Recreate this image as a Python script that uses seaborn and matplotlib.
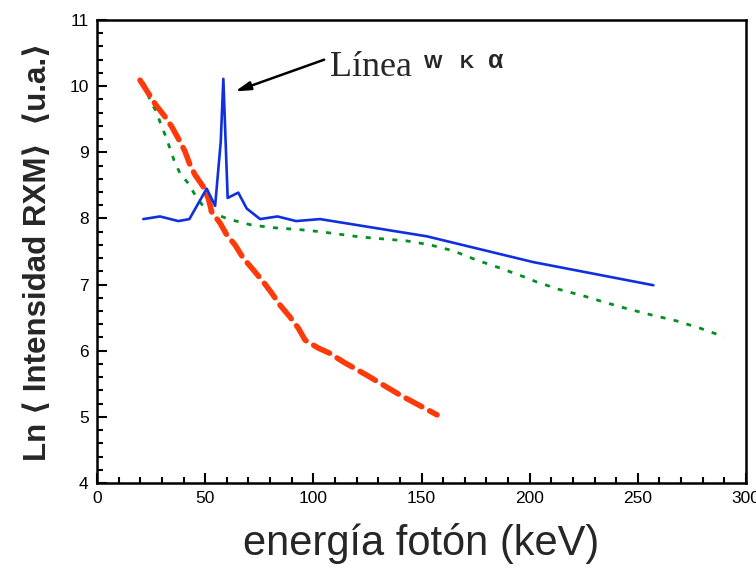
import matplotlib
matplotlib.use("Agg")
import matplotlib.pyplot as plt
from matplotlib.ticker import MultipleLocator
import seaborn as sns
import pandas as pd

# Espectro con línea característica del wolframio (trazo continuo azul)
energia_w = [21.4, 29.1, 37.6, 42.7, 50.7, 54.6, 57.2, 58.4, 60.4, 65.3, 69.2,
             75.4, 83.4, 92.0, 103.1, 152.4, 201.6, 257.2]
ln_w = [7.99, 8.03, 7.96, 7.99, 8.45, 8.19, 9.16, 10.11, 8.31, 8.39, 8.15,
        7.99, 8.03, 7.96, 7.99, 7.73, 7.34, 6.99]

# Espectro de baja energía (trazo discontinuo rojo)
energia_r = [19.9, 27.1, 31.4, 34.5, 38.4, 40.7, 43.0, 45.3, 49.1, 51.5, 53.0,
             56.9, 60.0, 63.8, 67.6, 72.3, 76.9, 80.8, 84.6, 89.2, 93.1, 96.2,
             102.3, 107.7, 113.9, 124.7, 140.1, 157.2]
ln_r = [10.09, 9.72, 9.54, 9.39, 9.16, 9.01, 8.81, 8.66, 8.48, 8.30, 8.10,
        7.93, 7.75, 7.60, 7.40, 7.22, 7.04, 6.87, 6.69, 6.51, 6.34, 6.16,
        6.04, 5.96, 5.83, 5.63, 5.33, 5.03]

# Espectro de alta energía (trazo punteado verde)
energia_v = [21.3, 23.0, 24.5, 27.6, 29.6, 31.8, 33.7, 35.6, 38.4, 42.2, 45.8,
             49.9, 55.3, 60.7, 71.5, 81.5, 93.9, 103.1, 121.6, 143.2, 154.0,
             164.7, 175.5, 186.3, 197.1, 203.2, 213.3, 224.8, 234.9, 245.6,
             256.4, 268.0, 278.8, 290.0]
ln_v = [10.06, 9.97, 9.77, 9.61, 9.41, 9.24, 9.06, 8.88, 8.68, 8.53, 8.33,
        8.15, 8.06, 7.99, 7.90, 7.86, 7.83, 7.80, 7.72, 7.66, 7.60, 7.51,
        7.37, 7.25, 7.12, 7.04, 6.93, 6.83, 6.73, 6.63, 6.54, 6.45, 6.34,
        6.21]

x_ticks = [0, 50, 100, 150, 200, 250, 300]
y_ticks = [4, 5, 6, 7, 8, 9, 10, 11]

sns.set_style("ticks")
plt.rcParams["font.family"] = ["Liberation Sans", "DejaVu Sans"]

fig = plt.figure(figsize=(7.56, 5.69), dpi=100)
ax = fig.add_axes([97 / 756, 1 - 483 / 569, 649 / 756, 463 / 569])

df_w = pd.DataFrame({"E": energia_w, "L": ln_w})
df_r = pd.DataFrame({"E": energia_r, "L": ln_r})
df_v = pd.DataFrame({"E": energia_v, "L": ln_v})

sns.lineplot(data=df_v, x="E", y="L", ax=ax, sort=False, color="#00901e",
             linewidth=2.0, linestyle=(0, (1.8, 3.0)), dash_capstyle="butt")
sns.lineplot(data=df_r, x="E", y="L", ax=ax, sort=False, color="#ff3a0a",
             linewidth=4.0, linestyle=(0, (3.2, 1.6)), dash_capstyle="round")
sns.lineplot(data=df_w, x="E", y="L", ax=ax, sort=False, color="#1030e0",
             linewidth=1.9)

ax.set_xlim(0, 300)
ax.set_ylim(4, 11)
ax.set_xticks(x_ticks)
ax.set_yticks(y_ticks)
ax.xaxis.set_minor_locator(MultipleLocator(10))
ax.yaxis.set_minor_locator(MultipleLocator(0.2))
ax.tick_params(which="both", direction="in", top=False, right=False,
               colors="black", labelsize=12.5, width=1.5)
ax.tick_params(which="major", length=7.5, pad=6)
ax.tick_params(which="minor", length=4.5)
for s in ax.spines.values():
    s.set_visible(True)
    s.set_linewidth(1.8)
    s.set_color("black")

ax.set_xlabel("energía fotón (keV)", fontsize=30, labelpad=12)
ax.set_ylabel("Ln \u27e8 Intensidad RXM\u27e9  \u27e8u.a.\u27e9", fontsize=22.5,
              fontweight="bold", labelpad=12)

# Anotación de la línea característica
ax.annotate("", xy=(63.8, 9.92), xytext=(105.0, 10.40),
            arrowprops=dict(arrowstyle="-|>,head_length=0.9,head_width=0.25",
                            color="black", lw=1.8, shrinkA=0, shrinkB=0))
ax.text(107.5, 10.15, "Línea", fontsize=26, va="baseline", ha="left",
        family=["Liberation Serif", "DejaVu Serif"])
for xc, ch, fs in [(155.3, "W", 14), (171.1, "K", 14), (184.5, "\u03b1", 18)]:
    ax.text(xc, 10.27, ch, fontsize=fs, fontweight="bold", va="baseline",
            ha="center")

fig.savefig("out.png", dpi=100)
